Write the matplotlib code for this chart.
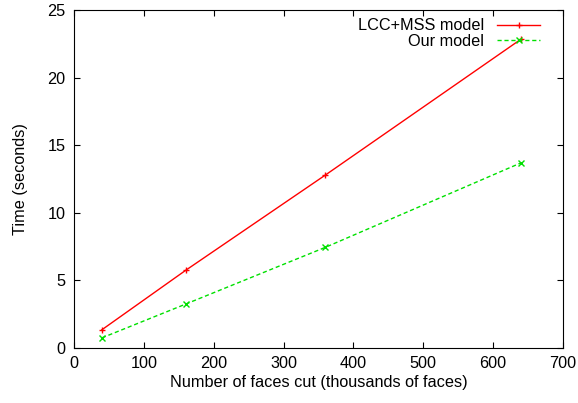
import matplotlib.pyplot as plt

plt.rcParams['font.family'] = ['Liberation Sans', 'DejaVu Sans']

faces = [40, 160, 360, 640]
lcc_mss = [1.35, 5.75, 12.8, 22.85]
ours = [0.75, 3.25, 7.45, 13.7]

fig = plt.figure(figsize=(5.78, 4.03), dpi=100)
ax = fig.add_axes([0.128, 0.1365, 0.846, 0.8385])

ax.plot(faces, lcc_mss, color='#ff0000', lw=1, marker='+', ms=5, mew=1, label='LCC+MSS model')
ax.plot(faces, ours, color='#00e000', lw=1, ls=(0, (3, 2)), marker='x', ms=4, mew=1, label='Our model')

ax.set_xlim(0, 700)
ax.set_ylim(0, 25)
ax.set_xticks(range(0, 701, 100))
ax.set_yticks(range(0, 26, 5))
ax.tick_params(direction='in', top=True, right=True, labelsize=11.7, length=4, pad=6)
ax.set_xlabel('Number of faces cut (thousands of faces)', fontsize=11.7, labelpad=3)
ax.set_ylabel('Time (seconds)', fontsize=11.7, labelpad=14)

ax.legend(loc='upper right', bbox_to_anchor=(0.969, 1.0), frameon=False,
          markerfirst=False, fontsize=11.7, handlelength=2.6, borderaxespad=0.1,
          labelspacing=0.05, handletextpad=0.8)

fig.savefig('out.png', dpi=100)
